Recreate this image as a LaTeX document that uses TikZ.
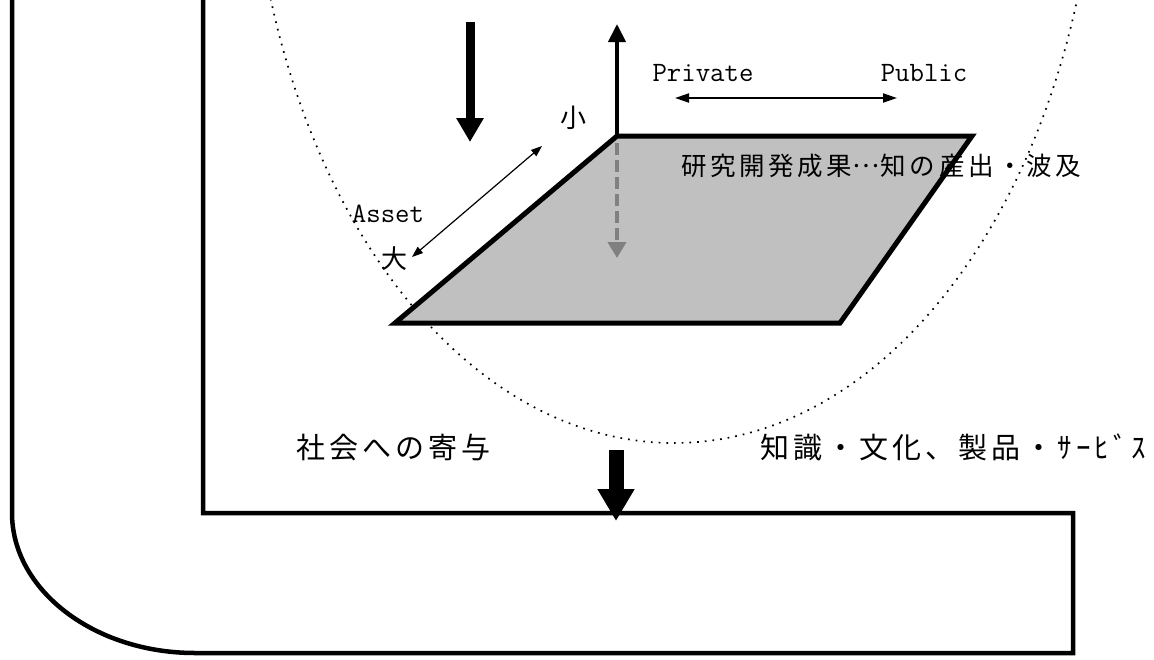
\documentclass[tikz,border=0pt]{standalone}
\usepackage{fontspec}
\usetikzlibrary{arrows.meta}
\newfontfamily\jpfont{Noto Sans CJK JP}
\newfontfamily\jpspaced{Noto Sans CJK JP}[LetterSpace=14]
\newcommand{\fwellipsis}{\makebox[1.14em]{\raisebox{0.3em}{…}}}
\definecolor{platefill}{HTML}{C0C0C0}
\definecolor{dashgray}{HTML}{808080}
\begin{document}
\begin{tikzpicture}[x=1pt,y=-1pt,
  frame/.style={draw=black,line width=4.5pt,line join=miter},
  plate/.style={fill=platefill,draw=black,line width=5pt,line join=miter},
  axisarrow/.style={draw=black,line width=4pt,-{Triangle[width=17pt,length=18pt]}},
  flowarrow/.style={draw=black,line width=9pt,-{Triangle[width=26pt,length=24pt]}},
  outarrow/.style={draw=black,line width=15pt,-{Triangle[width=35pt,length=32pt]}},
  downdash/.style={draw=dashgray,line width=4.5pt,dash pattern=on 12pt off 5pt,-{Triangle[width=18pt,length=16pt]}},
  scalearrow/.style={draw=black,line width=1.2pt,{Triangle[width=8pt,length=11pt]}-{Triangle[width=8pt,length=11pt]}},
  pparrow/.style={draw=black,line width=2pt,{Triangle[width=9pt,length=14pt]}-{Triangle[width=9pt,length=14pt]}},
  orbit/.style={draw=black,line width=1.7pt,dash pattern=on 1.7pt off 6pt},
  lab/.style={inner sep=0pt,outer sep=0pt},
  jpbig/.style={lab,font=\jpspaced\fontsize{29pt}{34pt}\selectfont,anchor=west},
  jpmid/.style={lab,font=\jpspaced\fontsize{25.5pt}{30pt}\selectfont,anchor=west},
  jpsmall/.style={lab,font=\jpfont\fontsize{26pt}{30pt}\selectfont},
  ttlab/.style={lab,font=\ttfamily\fontsize{28pt}{30pt}\selectfont},
]
\useasboundingbox (0,0) rectangle (1154,659);
\fill[white] (0,0) rectangle (1154,659);

% dotted orbit (clipped)
\begin{scope}
  \clip (0,0) rectangle (1154,659);
  \draw[orbit] (674,-200) ellipse [x radius=424pt, y radius=643pt];
\end{scope}

% outer frame
\draw[frame] (12,0) -- (12,513) .. controls (12,590) and (94,653) .. (195,653)
  -- (1073,653) -- (1073,513) -- (203,513) -- (203,0);

% plate
\coordinate (pTL) at (617,136);
\coordinate (pTR) at (972,136);
\coordinate (pBR) at (840,323);
\coordinate (pBL) at (395,323);
\draw[plate] (pTL) -- (pTR) -- (pBR) -- (pBL) -- cycle;

% coordinates of arrows
\coordinate (upTip) at (617,24);
\coordinate (dashStart) at (617,143);
\coordinate (dashTip) at (617,258);
\coordinate (inTop) at (470,22);
\coordinate (inTip) at (470,142);
\coordinate (outTop) at (616,450);
\coordinate (outTip) at (616,521);
\coordinate (assetSmall) at (542,146);
\coordinate (assetLarge) at (412,257);
\coordinate (privEnd) at (675,98);
\coordinate (pubEnd) at (897,98);

\draw[downdash] (dashStart) -- (dashTip);
\draw[axisarrow] (pTL) -- (upTip);
\draw[flowarrow] (inTop) -- (inTip);
\draw[outarrow] (outTop) -- (outTip);
\draw[scalearrow] (assetLarge) -- (assetSmall);
\draw[pparrow] (privEnd) -- (pubEnd);

% labels
\node[jpmid] (result) at (681,166) {研究開発成果\fwellipsis 知の産出・波及};
\node[jpbig] (contrib) at (296,447) {社会への寄与};
\node[jpbig] (goods) at (760,447) {知識・文化、製品・ｻｰﾋﾞｽ};
\node[ttlab] (priv) at (703,73) {Private};
\node[ttlab] (pub) at (924,73) {Public};
\node[ttlab] (asset) at (388,214) {Asset};
\node[jpsmall] (small) at (573,118) {小};
\node[jpsmall] (large) at (394,259) {大};
\end{tikzpicture}
\end{document}
